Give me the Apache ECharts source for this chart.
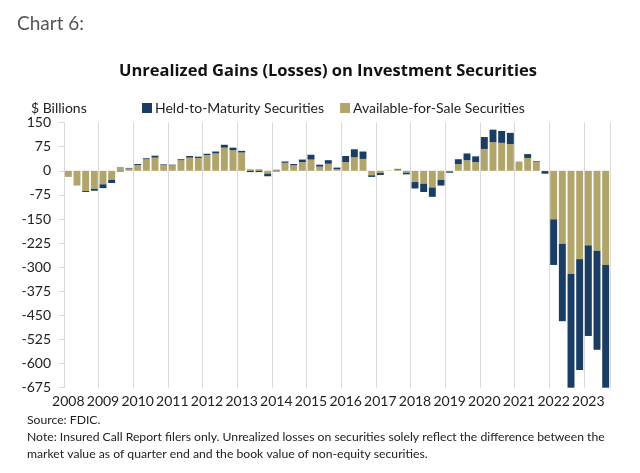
<!DOCTYPE html>
<html>
<head>
<meta charset="utf-8">
<script src="https://cdn.jsdelivr.net/npm/echarts@6/dist/echarts.min.js"></script>
<style>
html,body{margin:0;padding:0;background:#fff;}
#chart{width:640px;height:473px;}
</style>
</head>
<body>
<div id="chart"></div>
<script>
// Quarterly categories 2008 Q1 .. 2023 Q3
var years = ['2008','2009','2010','2011','2012','2013','2014','2015','2016','2017','2018','2019','2020','2021','2022','2023'];
var categories = [];
years.forEach(function (y) {
  ['Q1','Q2','Q3','Q4'].forEach(function (q) {
    if (!(y === '2023' && q === 'Q4')) categories.push(y + ' ' + q);
  });
});

// $ Billions
var availableForSale = [
  -19, -44, -63, -56,
  -42, -28, 12, 7,
  18, 36, 41, 18,
  17, 33, 41, 40,
  49, 54, 72, 64,
  57, 5, 5, -9,
  4, 25, 17, 27,
  35, 13, 22, 5,
  27, 42, 37, -14,
  -7, 1, 4, -6,
  -35, -40, -52, -28,
  -2, 21, 33, 27,
  68, 89, 87, 83,
  29, 40, 28, -1,
  -151, -227, -321, -275,
  -232, -249, -293
];
var heldToMaturity = [
  0, -1, -3, -6,
  -12, -10, -2, 2,
  3, 3, 6, 2,
  2, 3, 5, 4,
  4, 6, 9, 8,
  5, -4, -4, -8,
  -2, 4, 4, 8,
  15, 6, 11, 5,
  19, 25, 23, -5,
  -6, 0, 2, -5,
  -20, -26, -29, -18,
  -4, 15, 21, 18,
  37, 39, 37, 35,
  0, 12, 2, -8,
  -142, -241, -369, -345,
  -282, -308, -391
];
var yTicks = [150, 75, 0, -75, -150, -225, -300, -375, -450, -525, -600, -675];

var FONT = 'Lato';
var chart = echarts.init(document.getElementById('chart'), null, {renderer: 'canvas'});
chart.setOption({
  animation: false,
  textStyle: {fontFamily: FONT},
  title: [
    {text: 'Chart 6:', left: 12, top: 9, textStyle: {fontFamily: FONT, fontSize: 19, fontWeight: 'normal', color: '#555555'}},
    {text: 'Unrealized Gains (Losses) on Investment Securities', left: 323, textAlign: 'center', top: 58, textStyle: {fontFamily: 'Open Sans', fontSize: 16.5, fontWeight: 'bold', color: '#111111'}},
    {text: '$ Billions', left: 26, top: 96, textStyle: {fontFamily: FONT, fontSize: 14, fontWeight: 'normal', color: '#222222'}}
  ],
  legend: {
    left: 137, top: 96,
    itemWidth: 10, itemHeight: 10, itemGap: 16,
    icon: 'rect',
    data: ['Held-to-Maturity Securities', 'Available-for-Sale Securities'],
    textStyle: {fontFamily: FONT, fontSize: 14, color: '#222222', padding: [0, 0, 0, -2]}
  },
  grid: {left: 64, right: 30, top: 122.6, bottom: 85.3, containLabel: false},
  xAxis: {
    type: 'category',
    data: categories,
    boundaryGap: true,
    axisLine: {show: false},
    axisTick: {show: false},
    axisLabel: {
      interval: 3, margin: 7, fontSize: 14, color: '#222222', fontFamily: FONT,
      formatter: function (v) { return v.slice(0, 4); }
    },
    splitLine: {show: true, interval: 3, lineStyle: {color: '#d9d9d9', width: 1}}
  },
  yAxis: {
    type: 'value',
    min: -675, max: 150, interval: 75,
    axisLine: {show: true, lineStyle: {color: '#d9d9d9'}},
    axisTick: {show: true, length: 5, lineStyle: {color: '#d9d9d9'}},
    axisLabel: {fontSize: 14, color: '#222222', margin: 13, fontFamily: FONT,
      formatter: function (v) { return yTicks.indexOf(v) >= 0 ? String(v) : ''; }},
    splitLine: {show: false}
  },
  series: [
    {
      name: 'Available-for-Sale Securities', type: 'bar', stack: 'total',
      data: availableForSale, barCategoryGap: '20%',
      itemStyle: {color: '#b2a56c'}
    },
    {
      name: 'Held-to-Maturity Securities', type: 'bar', stack: 'total',
      data: heldToMaturity, barCategoryGap: '20%',
      itemStyle: {color: '#1a3d63'}
    }
  ],
  graphic: [
    {type: 'text', left: 27, top: 414, style: {text: 'Source: FDIC.', font: '12.2px ' + FONT, fill: '#222222'}},
    {type: 'text', left: 27, top: 431, style: {text: 'Note: Insured Call Report filers only. Unrealized losses on securities solely reflect the difference between the', font: '12.2px ' + FONT, fill: '#222222'}},
    {type: 'text', left: 27, top: 448, style: {text: 'market value as of quarter end and the book value of non-equity securities.', font: '12.2px ' + FONT, fill: '#222222'}}
  ]
});
</script>
</body>
</html>
